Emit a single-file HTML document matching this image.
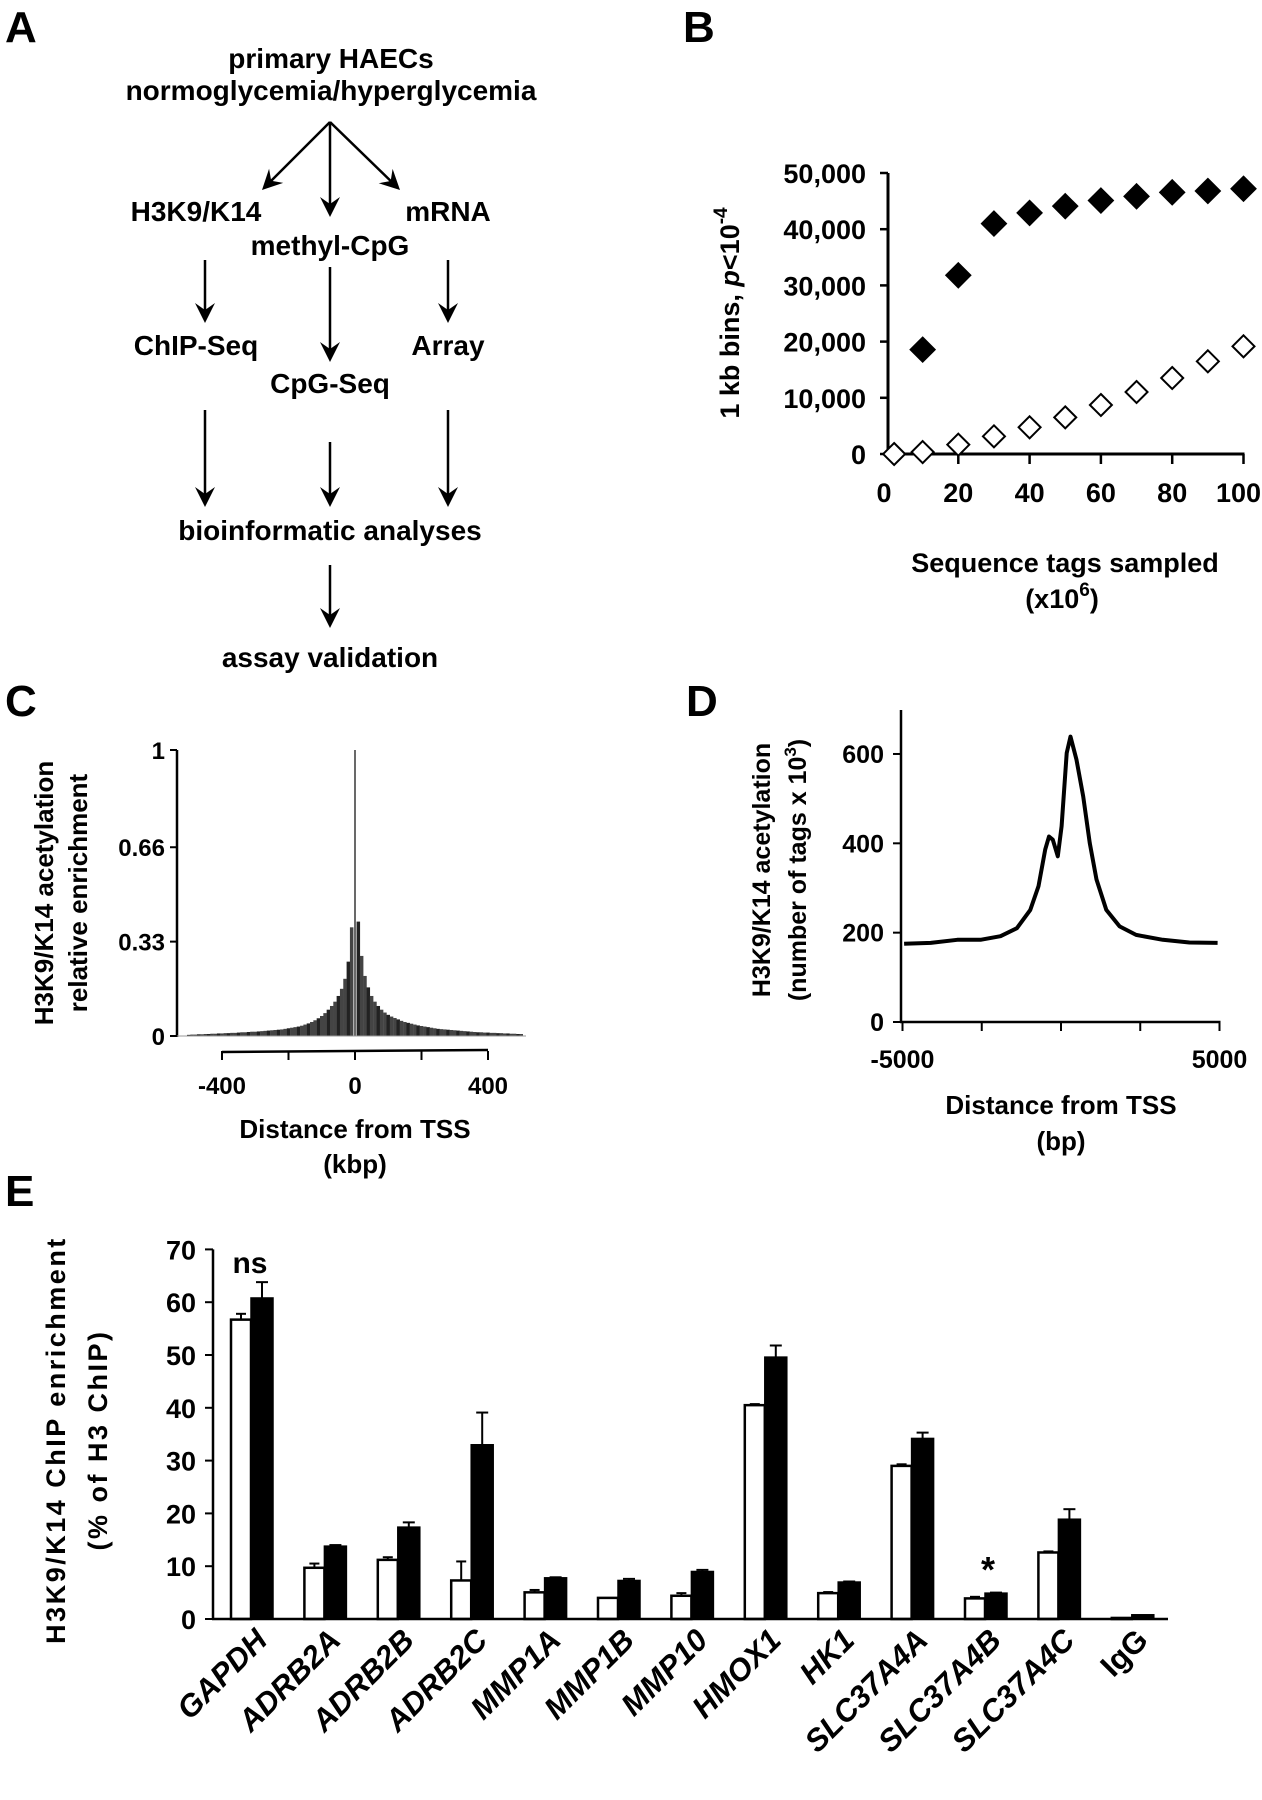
<!DOCTYPE html>
<html><head><meta charset="utf-8"><style>
html,body{margin:0;padding:0;background:#fff;}
svg{display:block;font-family:"Liberation Sans",Arial,sans-serif;font-weight:bold;}
</style></head><body>
<svg id="fig" width="1262" height="1800" viewBox="0 0 1262 1800" xmlns="http://www.w3.org/2000/svg">
<g id="pA"></g>
<g id="pB"></g>
<g id="pC"></g>
<g id="pD"></g>
<g id="pE"></g>
</svg>
<script>
// ---------- Panel B data ----------
const bX = [10,20,30,40,50,60,70,80,90,100];
const bFilled = [18570,31800,41000,42900,44100,45100,45850,46560,46800,47200];
const bOpenX = [2,10,20,30,40,50,60,70,80,90,100];
const bOpen = [0,350,1660,3140,4750,6520,8720,11030,13520,16490,19160];
const bYTicks = [0,10000,20000,30000,40000,50000];
const bYTickLabels = ["0","10,000","20,000","30,000","40,000","50,000"];
const bXTicks = [0,20,40,60,80,100];
const bXTickLabels = ["0","20","40","60","80","100"];
// ---------- Panel C data (bins of 10 kbp, -500..500) ----------
const cBinStart = -500;
const cBinStep = 10;
const cValues = [0.004,0.005,0.005,0.006,0.006,0.007,0.007,0.008,0.008,0.009,
0.009,0.010,0.010,0.011,0.011,0.012,0.013,0.013,0.014,0.015,
0.015,0.016,0.017,0.018,0.019,0.020,0.021,0.022,0.023,0.025,
0.027,0.029,0.031,0.033,0.036,0.040,0.044,0.049,0.055,0.062,
0.070,0.080,0.092,0.105,0.120,0.140,0.165,0.200,0.260,0.380,
1.0,
0.40,0.28,0.21,0.17,0.14,0.12,0.105,0.092,0.082,0.074,
0.068,0.063,0.058,0.053,0.049,0.046,0.043,0.040,0.037,0.035,
0.033,0.031,0.029,0.027,0.025,0.024,0.023,0.022,0.021,0.020,
0.019,0.018,0.017,0.016,0.015,0.014,0.013,0.013,0.012,0.012,
0.011,0.011,0.010,0.010,0.009,0.009,0.008,0.008,0.007,0.007];
const cYTicks = [0,0.33,0.66,1];
const cYTickLabels = ["0","0.33","0.66","1"];
const cXTicks = [-400,-200,0,200,400];
const cXTickLabels = ["-400","","0","","400"];
// ---------- Panel D data ----------
const dX = [-4950,-4110,-3270,-2540,-1910,-1390,-970,-710,-500,-380,-260,-100,20,180,300,490,700,910,1120,1430,1850,2370,3210,4050,4940];
const dY = [175,177,184,184,192,210,251,304,386,415,408,371,438,602,639,587,505,400,319,251,214,195,184,178,177];
const dYTicks = [0,200,400,600];
const dXTicks = [-5000,-2500,0,2500,5000];
const dXTickLabels = ["-5000","","","","5000"];
// ---------- Panel E data ----------
const eCats = ["GAPDH","ADRB2A","ADRB2B","ADRB2C","MMP1A","MMP1B","MMP10","HMOX1","HK1","SLC37A4A","SLC37A4B","SLC37A4C","IgG"];
const eNormo = [56.7,9.7,11.2,7.3,5.05,4.0,4.4,40.5,4.9,29.0,3.9,12.6,0.2];
const eNormoErr = [1.1,0.8,0.5,3.6,0.45,0,0.5,0.2,0.2,0.3,0.3,0.2,0];
const eHyper = [60.8,13.8,17.4,33.0,7.8,7.3,9.0,49.6,7.0,34.2,4.9,18.9,0.8];
const eHyperErr = [3.0,0.2,0.9,6.1,0.1,0.3,0.3,2.2,0.1,1.1,0.1,1.9,0];
const eYTicks = [0,10,20,30,40,50,60,70];

const NS="http://www.w3.org/2000/svg";
function mk(parent,tag,attrs,text){const e=document.createElementNS(NS,tag);for(const k in attrs)e.setAttribute(k,attrs[k]);if(text!==undefined)e.textContent=text;parent.appendChild(e);return e;}

// ---------- Panel A ----------
const A=document.getElementById('pA');
let t;
t=mk(A,'text',{x:5,y:42,'font-size':44},'A');


const aTexts=[["primary HAECs",331,68],["normoglycemia/hyperglycemia",331,100],["H3K9/K14",196,221],["mRNA",448,221],["methyl-CpG",330,255],["ChIP-Seq",196,355],["Array",448,355],["CpG-Seq",330,393],["bioinformatic analyses",330,540],["assay validation",330,667]];
aTexts.forEach(a=>{
  const e=mk(A,'text',{x:a[1],y:a[2],'font-size':28,'text-anchor':'middle'},a[0]);
  
  
});
function arrow(g,x1,y1,x2,y2){
  const dx=x2-x1,dy=y2-y1,len=Math.hypot(dx,dy),ux=dx/len,uy=dy/len,nx=-uy,ny=ux,L=20,W=10;
  const l=mk(g,'line',{x1:x1,y1:y1,x2:x2-ux*L*0.6,y2:y2-uy*L*0.6,stroke:'#000','stroke-width':2.5});
  
  
  const p=[[x2,y2],[x2-ux*L+nx*W,y2-uy*L+ny*W],[x2-ux*L*0.65,y2-uy*L*0.65],[x2-ux*L-nx*W,y2-uy*L-ny*W]];
  const h=mk(g,'polygon',{points:p.map(q=>q.join(',')).join(' '),fill:'#000'});
  
  
}
[[330,122,262,190],[330,122,330,217],[330,122,400,190],[205,260,205,323],[330,267,330,362],[448,260,448,323],[205,410,205,507],[330,442,330,507],[448,410,448,507],[330,565,330,628]].forEach(a=>arrow(A,...a));

// ---------- Panel B ----------
const B=document.getElementById('pB');
const bx=v=>887+v*3.565, by=v=>454-v*0.00562;
t=mk(B,'text',{x:683,y:42,'font-size':44},'B');


let ax=mk(B,'line',{x1:888,y1:by(50000),x2:888,y2:455,stroke:'#000','stroke-width':3});


ax=mk(B,'line',{x1:887,y1:454,x2:bx(100)+1,y2:454,stroke:'#000','stroke-width':3});


bYTicks.forEach((v,i)=>{
  mk(B,'line',{x1:880,y1:by(v),x2:888,y2:by(v),stroke:'#000','stroke-width':2.5});
  const e=mk(B,'text',{x:866,y:by(v)+10,'font-size':27,'text-anchor':'end'},bYTickLabels[i]);
  
  
});
bXTicks.forEach((v,i)=>{
  if(v>0) mk(B,'line',{x1:bx(v),y1:454,x2:bx(v),y2:464,stroke:'#000','stroke-width':2.5});
  const last=(i===bXTicks.length-1);
  const e=mk(B,'text',{x:last?1261:bx(v)-(v===0?3:0),y:502,'font-size':27,'text-anchor':last?'end':'middle'},bXTickLabels[i]);
  
  
});
function diamond(g,cx,cy,r,fill){return mk(g,'polygon',{points:`${cx},${cy-r} ${cx+r},${cy} ${cx},${cy+r} ${cx-r},${cy}`,fill:fill,stroke:'#000','stroke-width':2});}
bOpenX.forEach((v,i)=>{const d=diamond(B,bx(v),by(bOpen[i]),11,'#fff');
  
  });
bX.forEach((v,i)=>{const d=diamond(B,bx(v),by(bFilled[i]),12,'#000');
  
  });
t=mk(B,'text',{transform:'translate(739,313) rotate(-90)','font-size':27,'text-anchor':'middle'});


t.innerHTML='1 kb bins, <tspan font-style="italic">p</tspan>&lt;10<tspan dy="-12" font-size="19">-4</tspan>';
t=mk(B,'text',{x:1065,y:572,'font-size':27,'text-anchor':'middle'},'Sequence tags sampled');


t=mk(B,'text',{x:1062,y:608,'font-size':27,'text-anchor':'middle'});


t.innerHTML='(x10<tspan dy="-12" font-size="19">6</tspan><tspan dy="12">)</tspan>';

// ---------- Panel C ----------
const C=document.getElementById('pC');
const cx=v=>355+v*0.3325, cy=v=>1036-v*286;
t=mk(C,'text',{x:5,y:716,'font-size':44},'C');


cValues.forEach((v,i)=>{
  const c=cBinStart+i*cBinStep;
  const w=(c===0)?1.6:3.5;
  const r=mk(C,'rect',{x:cx(c)-w/2,y:cy(v),width:w,height:cy(0)-cy(v),fill:(i%3===0?'#222':'#444')});
  
  
});
ax=mk(C,'line',{x1:177,y1:cy(1),x2:177,y2:cy(0)+1,stroke:'#000','stroke-width':2.5});


mk(C,'line',{x1:177,y1:1036,x2:526,y2:1036,stroke:'#999','stroke-width':1});
cYTicks.forEach((v,i)=>{
  mk(C,'line',{x1:170,y1:cy(v),x2:177,y2:cy(v),stroke:'#000','stroke-width':2});
  const e=mk(C,'text',{x:165,y:cy(v)+9,'font-size':24,'text-anchor':'end'},cYTickLabels[i]);
  
  
});
ax=mk(C,'line',{x1:cx(-400),y1:1052,x2:cx(400),y2:1050,stroke:'#000','stroke-width':2.5});


cXTicks.forEach((v,i)=>{
  mk(C,'line',{x1:cx(v),y1:1051,x2:cx(v),y2:1060,stroke:'#000','stroke-width':2});
  if(cXTickLabels[i]){const e=mk(C,'text',{x:cx(v),y:1094,'font-size':24,'text-anchor':'middle'},cXTickLabels[i]);
  
  }
});
t=mk(C,'text',{x:355,y:1138,'font-size':26,'text-anchor':'middle'},'Distance from TSS');


t=mk(C,'text',{x:355,y:1173,'font-size':26,'text-anchor':'middle'},'(kbp)');


t=mk(C,'text',{transform:'translate(53,893) rotate(-90)','font-size':26,'text-anchor':'middle'},'H3K9/K14 acetylation');


t=mk(C,'text',{transform:'translate(87,893) rotate(-90)','font-size':26,'text-anchor':'middle'},'relative enrichment');



// ---------- Panel D ----------
const D=document.getElementById('pD');
const dx=v=>1061+v*0.0317, dy=v=>1022-v*0.4467;
t=mk(D,'text',{x:686,y:716,'font-size':44},'D');


ax=mk(D,'line',{x1:901,y1:710,x2:901,y2:1023,stroke:'#000','stroke-width':2.5});


ax=mk(D,'line',{x1:900,y1:1022,x2:dx(5000)+1,y2:1022,stroke:'#000','stroke-width':2.5});


dYTicks.forEach(v=>{
  mk(D,'line',{x1:893,y1:dy(v),x2:901,y2:dy(v),stroke:'#000','stroke-width':2});
  const e=mk(D,'text',{x:884,y:dy(v)+9,'font-size':25,'text-anchor':'end'},String(v));
  
  
});
dXTicks.forEach((v,i)=>{
  mk(D,'line',{x1:dx(v),y1:1022,x2:dx(v),y2:1031,stroke:'#000','stroke-width':2});
  if(dXTickLabels[i]){const e=mk(D,'text',{x:dx(v),y:1068,'font-size':25,'text-anchor':'middle'},dXTickLabels[i]);
  
  }
});
let pth=mk(D,'path',{d:dX.map((v,i)=>(i?'L':'M')+dx(v).toFixed(1)+','+dy(dY[i]).toFixed(1)).join(' '),fill:'none',stroke:'#000','stroke-width':4,'stroke-linejoin':'round'});


t=mk(D,'text',{x:1061,y:1114,'font-size':26,'text-anchor':'middle'},'Distance from TSS');


t=mk(D,'text',{x:1061,y:1150,'font-size':26,'text-anchor':'middle'},'(bp)');


t=mk(D,'text',{transform:'translate(770,870) rotate(-90)','font-size':25,'text-anchor':'middle'},'H3K9/K14 acetylation');


t=mk(D,'text',{transform:'translate(806,870) rotate(-90)','font-size':25,'text-anchor':'middle'});


t.innerHTML='(number of tags x 10<tspan dy="-10" font-size="17">3</tspan><tspan dy="10">)</tspan>';

// ---------- Panel E ----------
const E=document.getElementById('pE');
const ex=i=>251+i*73.4, ey=v=>1619-v*5.28;
t=mk(E,'text',{x:5,y:1206,'font-size':44},'E');


eCats.forEach((c,i)=>{
  const x=ex(i);
  if(eNormoErr[i]>0){mk(E,'line',{x1:x-10,y1:ey(eNormo[i]),x2:x-10,y2:ey(eNormo[i]+eNormoErr[i]),stroke:'#000','stroke-width':2});
    mk(E,'line',{x1:x-15,y1:ey(eNormo[i]+eNormoErr[i]),x2:x-5,y2:ey(eNormo[i]+eNormoErr[i]),stroke:'#000','stroke-width':2});}
  if(eHyperErr[i]>0){mk(E,'line',{x1:x+11,y1:ey(eHyper[i]),x2:x+11,y2:ey(eHyper[i]+eHyperErr[i]),stroke:'#000','stroke-width':2});
    mk(E,'line',{x1:x+5,y1:ey(eHyper[i]+eHyperErr[i]),x2:x+17,y2:ey(eHyper[i]+eHyperErr[i]),stroke:'#000','stroke-width':2});}
  const w=mk(E,'rect',{x:x-20,y:ey(eNormo[i]),width:20,height:ey(0)-ey(eNormo[i]),fill:'#fff',stroke:'#000','stroke-width':2.5});
  
  
  const b=mk(E,'rect',{x:x,y:ey(eHyper[i]),width:22,height:ey(0)-ey(eHyper[i]),fill:'#000',stroke:'#000','stroke-width':1.5});
  
  
  const lb=mk(E,'text',{transform:`translate(${x+18},${1642}) rotate(-45)`,'font-size':31,'font-style':c==='IgG'?'normal':'italic','text-anchor':'end'},c);
  
  
});
ax=mk(E,'line',{x1:213,y1:ey(70),x2:213,y2:1620,stroke:'#000','stroke-width':2.5});


ax=mk(E,'line',{x1:212,y1:1619,x2:1168,y2:1619,stroke:'#000','stroke-width':2.5});


eYTicks.forEach(v=>{
  mk(E,'line',{x1:205,y1:ey(v),x2:213,y2:ey(v),stroke:'#000','stroke-width':2});
  const e=mk(E,'text',{x:196,y:ey(v)+10,'font-size':27,'text-anchor':'end'},String(v));
  
  
});
t=mk(E,'text',{x:250,y:1273,'font-size':30,'text-anchor':'middle'},'ns');


t=mk(E,'text',{x:988,y:1582,'font-size':36,'text-anchor':'middle'},'*');


t=mk(E,'text',{transform:'translate(65,1440) rotate(-90)','font-size':27,'letter-spacing':2.5,'text-anchor':'middle'},'H3K9/K14 ChIP enrichment');


t=mk(E,'text',{transform:'translate(107,1440) rotate(-90)','font-size':27,'letter-spacing':2.5,'text-anchor':'middle'},'(% of H3 ChIP)');


</script>
</body></html>
